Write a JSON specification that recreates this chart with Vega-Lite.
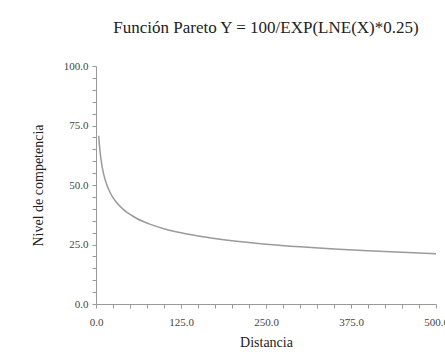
{
  "$schema": "https://vega.github.io/schema/vega-lite/v6.json",
  "autosize": "none",
  "width": 340,
  "height": 238,
  "padding": {"left": 96, "top": 66, "right": 9, "bottom": 51},
  "background": "white",
  "title": {
    "text": "Función Pareto Y = 100/EXP(LNE(X)*0.25)",
    "font": "Liberation Serif",
    "fontSize": 17,
    "fontWeight": "normal",
    "color": "#222222",
    "anchor": "middle",
    "offset": 23
  },
  "config": {
    "view": {"stroke": null},
    "axis": {
      "labelFont": "Liberation Serif",
      "titleFont": "Liberation Serif",
      "labelFontSize": 11,
      "titleFontSize": 14,
      "titleFontWeight": "normal",
      "labelColor": "#444444",
      "titleColor": "#222222",
      "domainColor": "#999999",
      "tickColor": "#999999",
      "grid": false
    }
  },
  "data": {
    "values": [
      {"x": 4, "y": 70.71},
      {"x": 5, "y": 66.87},
      {"x": 6, "y": 63.89},
      {"x": 8, "y": 59.46},
      {"x": 10, "y": 56.23},
      {"x": 12, "y": 53.73},
      {"x": 15, "y": 50.81},
      {"x": 20, "y": 47.29},
      {"x": 25, "y": 44.72},
      {"x": 30, "y": 42.73},
      {"x": 40, "y": 39.76},
      {"x": 50, "y": 37.61},
      {"x": 60, "y": 35.93},
      {"x": 80, "y": 33.44},
      {"x": 100, "y": 31.62},
      {"x": 125, "y": 29.91},
      {"x": 150, "y": 28.57},
      {"x": 200, "y": 26.59},
      {"x": 250, "y": 25.15},
      {"x": 300, "y": 24.03},
      {"x": 350, "y": 23.12},
      {"x": 400, "y": 22.36},
      {"x": 450, "y": 21.71},
      {"x": 500, "y": 21.15}
    ]
  },
  "mark": {"type": "line", "color": "#9a9a9a", "strokeWidth": 1.5, "interpolate": "monotone"},
  "encoding": {
    "x": {
      "field": "x",
      "type": "quantitative",
      "scale": {"domain": [0, 500], "nice": false},
      "axis": {
        "title": "Distancia",
        "values": [0,25,50,75,100,125,150,175,200,225,250,275,300,325,350,375,400,425,450,475,500],
        "labelExpr": "datum.value % 125 == 0 ? format(datum.value, '.1f') : ''",
        "tickSize": 4,
        "labelPadding": 8,
        "titlePadding": 8,
        "labelFlush": false,
        "labelOverlap": false
      }
    },
    "y": {
      "field": "y",
      "type": "quantitative",
      "scale": {"domain": [0, 100], "nice": false},
      "axis": {
        "title": "Nivel de competencia",
        "values": [0,5,10,15,20,25,30,35,40,45,50,55,60,65,70,75,80,85,90,95,100],
        "labelExpr": "datum.value % 25 == 0 ? format(datum.value, '.1f') : ''",
        "tickSize": 4,
        "labelPadding": 4,
        "titlePadding": 18,
        "labelOverlap": false,
        "labelFlush": false
      }
    }
  }
}
